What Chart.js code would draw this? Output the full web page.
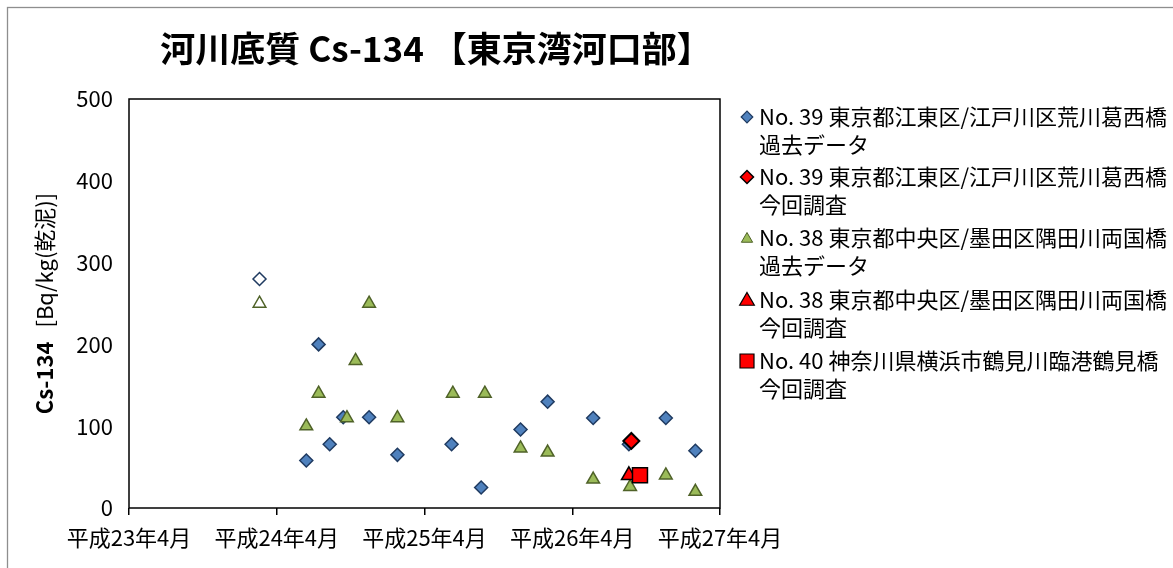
<!DOCTYPE html>
<html>
<head>
<meta charset="utf-8">
<script src="https://cdn.jsdelivr.net/npm/chart.js@4/dist/chart.umd.min.js"></script>
<style>
html,body{margin:0;padding:0;background:#fff;overflow:hidden;}
#wrap{position:relative;width:1173px;height:568px;}
</style>
</head>
<body>
<div id="wrap"><canvas id="c" width="1173" height="568"></canvas></div>
<script>
// ---- text ----
const titleText = '河川底質 Cs-134 【東京湾河口部】';
const yTitleBold = 'Cs-134';
const yTitleNormal = '[Bq/kg(乾泥)]';
const tickLabels = ['平成23年4月', '平成24年4月', '平成25年4月', '平成26年4月', '平成27年4月'];
const seriesLabels = [
  ['No. 39 東京都江東区/江戸川区荒川葛西橋', '過去データ'],
  ['No. 39 東京都江東区/江戸川区荒川葛西橋', '今回調査'],
  ['No. 38 東京都中央区/墨田区隅田川両国橋', '過去データ'],
  ['No. 38 東京都中央区/墨田区隅田川両国橋', '今回調査'],
  ['No. 40 神奈川県横浜市鶴見川臨港鶴見橋', '今回調査']
];

// ---- data (x = months since 平成23年4月) ----
const no39PastX = [10.6, 14.4, 15.4, 16.3, 17.4, 19.5, 21.8, 26.2, 28.6, 31.8, 34.0, 37.7, 40.6, 43.6, 46.0];
const no39PastY = [280, 58, 200, 78, 111, 111, 65, 78, 25, 96, 130, 110, 78, 110, 70];
const no39PastHollow = [1, 0, 0, 0, 0, 0, 0, 0, 0, 0, 0, 0, 0, 0, 0];
const no39NowX = [40.8];
const no39NowY = [82];
const no38PastX = [10.6, 14.4, 15.4, 17.7, 18.4, 19.5, 21.8, 26.3, 28.9, 31.8, 34.0, 37.7, 40.7, 43.6, 46.0];
const no38PastY = [250, 100, 140, 110, 180, 250, 110, 140, 140, 73, 68, 35, 26, 40, 20];
const no38PastHollow = [1, 0, 0, 0, 0, 0, 0, 0, 0, 0, 0, 0, 0, 0, 0];
const no38NowX = [40.6];
const no38NowY = [40];
const no40NowX = [41.5];
const no40NowY = [40];

// ---- styles ----
const FONT = "'Noto Sans CJK JP', 'Noto Sans', sans-serif";
const blueFill = '#4f81bd', blueLine = '#1f3a60';
const greenFill = '#9bbb59', greenLine = '#4f6228';
const redFill = '#ff0000', redLine = '#000000';

function pts(xs, ys) { return xs.map((x, i) => ({ x: x, y: ys[i] })); }

const datasets = [
  { label: seriesLabels[0].join('\n'), data: pts(no39PastX, no39PastY), order: 4,
    pointStyle: 'rectRot', pointRadius: 6.5, pointBorderWidth: 1.5,
    pointBackgroundColor: no39PastHollow.map(h => h ? '#ffffff' : blueFill),
    pointBorderColor: blueLine, backgroundColor: blueFill, borderColor: blueLine },
  { label: seriesLabels[1].join('\n'), data: pts(no39NowX, no39NowY), order: 1,
    pointStyle: 'rectRot', pointRadius: 8, pointBorderWidth: 2,
    pointBackgroundColor: redFill, pointBorderColor: redLine, backgroundColor: redFill, borderColor: redLine },
  { label: seriesLabels[2].join('\n'), data: pts(no38PastX, no38PastY), order: 3,
    pointStyle: 'triangle', pointRadius: 7.3, pointBorderWidth: 1.5,
    pointBackgroundColor: no38PastHollow.map(h => h ? '#ffffff' : greenFill),
    pointBorderColor: greenLine, backgroundColor: greenFill, borderColor: greenLine },
  { label: seriesLabels[3].join('\n'), data: pts(no38NowX, no38NowY), order: 2,
    pointStyle: 'triangle', pointRadius: 8.5, pointBorderWidth: 1.5,
    pointBackgroundColor: redFill, pointBorderColor: redLine, backgroundColor: redFill, borderColor: redLine },
  { label: seriesLabels[4].join('\n'), data: pts(no40NowX, no40NowY), order: 0,
    pointStyle: 'rect', pointRadius: 10.6, pointBorderWidth: 1.5,
    pointBackgroundColor: redFill, pointBorderColor: redLine, backgroundColor: redFill, borderColor: redLine }
];

function drawMarker(ctx, style, x, y, r, fill, stroke, lw) {
  ctx.save();
  ctx.beginPath();
  if (style === 'rectRot') {
    ctx.moveTo(x - r, y); ctx.lineTo(x, y - r); ctx.lineTo(x + r, y); ctx.lineTo(x, y + r); ctx.closePath();
  } else if (style === 'triangle') {
    const w = r * Math.sqrt(3) / 2;
    ctx.moveTo(x, y - r); ctx.lineTo(x + w, y + r / 2); ctx.lineTo(x - w, y + r / 2); ctx.closePath();
  } else {
    ctx.rect(x - r, y - r, 2 * r, 2 * r);
  }
  ctx.fillStyle = fill; ctx.fill();
  ctx.lineWidth = lw; ctx.strokeStyle = stroke; ctx.stroke();
  ctx.restore();
}

const decorPlugin = {
  id: 'decor',
  beforeDraw(chart) {
    const ctx = chart.ctx;
    ctx.save();
    ctx.fillStyle = '#ffffff';
    ctx.fillRect(0, 0, chart.width, chart.height);
    ctx.strokeStyle = '#8e8e8e';
    ctx.lineWidth = 1.3;
    ctx.strokeRect(7.5, 7.5, chart.width + 20, chart.height + 20);
    ctx.restore();
  },
  beforeDatasetsDraw(chart) {
    const ctx = chart.ctx, a = chart.chartArea;
    ctx.save();
    ctx.strokeStyle = '#000000';
    ctx.lineWidth = 1.5;
    ctx.strokeRect(a.left, a.top, a.right - a.left, a.bottom - a.top);
    ctx.restore();
  },
  afterDraw(chart) {
    const ctx = chart.ctx, a = chart.chartArea;
    ctx.save();
    // title
    ctx.fillStyle = '#000000';
    ctx.font = 'bold 35px ' + FONT;
    ctx.textAlign = 'center';
    ctx.textBaseline = 'middle';
    ctx.fillText(titleText, 436, 49);
    // y axis title (mixed weight)
    ctx.translate(45, (a.top + a.bottom) / 2);
    ctx.rotate(-Math.PI / 2);
    ctx.font = 'bold 22px ' + FONT;
    const wb = ctx.measureText(yTitleBold).width;
    ctx.font = '22px ' + FONT;
    const gap = 14;
    const wn = ctx.measureText(yTitleNormal).width;
    const total = wb + gap + wn;
    ctx.textAlign = 'left';
    ctx.font = 'bold 22px ' + FONT;
    ctx.fillText(yTitleBold, -total / 2, 0);
    ctx.font = '22px ' + FONT;
    ctx.fillText(yTitleNormal, -total / 2 + wb + gap, 0);
    ctx.restore();

    // legend
    ctx.save();
    const rowY = [117, 177, 238, 300, 361];
    const markers = [
      ['rectRot', 5.8, blueFill, blueLine, 1.2],
      ['rectRot', 6.5, redFill, redLine, 1.5],
      ['triangle', 6.5, greenFill, greenLine, 1.0],
      ['triangle', 8.5, redFill, redLine, 1.2],
      ['rect', 7, redFill, redLine, 1.2]
    ];
    ctx.font = '22px ' + FONT;
    ctx.fillStyle = '#000000';
    ctx.textAlign = 'left';
    ctx.textBaseline = 'middle';
    chart.data.datasets.forEach((ds, i) => {
      const m = markers[i];
      const my = m[0] === 'triangle' ? rowY[i] + 1 : rowY[i];
      drawMarker(ctx, m[0], 747, my, m[1], m[2], m[3], m[4]);
      ctx.fillStyle = '#000000';
      ds.label.split('\n').forEach((line, k) => {
        ctx.fillText(line, 759, rowY[i] + k * 28);
      });
    });
    ctx.restore();
  }
};

new Chart(document.getElementById('c'), {
  type: 'scatter',
  data: { datasets: datasets },
  plugins: [decorPlugin],
  options: {
    responsive: false,
    devicePixelRatio: 1,
    animation: false,
    layout: { padding: { left: 0, top: 99, right: 453, bottom: 0 } },
    plugins: { legend: { display: false }, title: { display: false }, tooltip: { enabled: false } },
    scales: {
      x: {
        type: 'linear', min: 0, max: 48,
        afterFit(s) { s.height = 60; },
        border: { display: false },
        grid: { display: true, drawOnChartArea: false, drawTicks: true, tickLength: 7, color: '#000000', lineWidth: 1.5 },
        ticks: {
          stepSize: 12, autoSkip: false, maxRotation: 0, padding: 9,
          color: '#000000', font: { family: FONT, size: 22 },
          callback: (v) => tickLabels[Math.round(v / 12)]
        }
      },
      y: {
        type: 'linear', min: 0, max: 500,
        afterFit(s) { s.width = 129; },
        border: { display: false },
        grid: { display: false, drawTicks: false },
        ticks: {
          stepSize: 100, padding: 16,
          color: '#000000', font: { family: FONT, size: 22 }
        }
      }
    }
  }
});
</script>
</body>
</html>
